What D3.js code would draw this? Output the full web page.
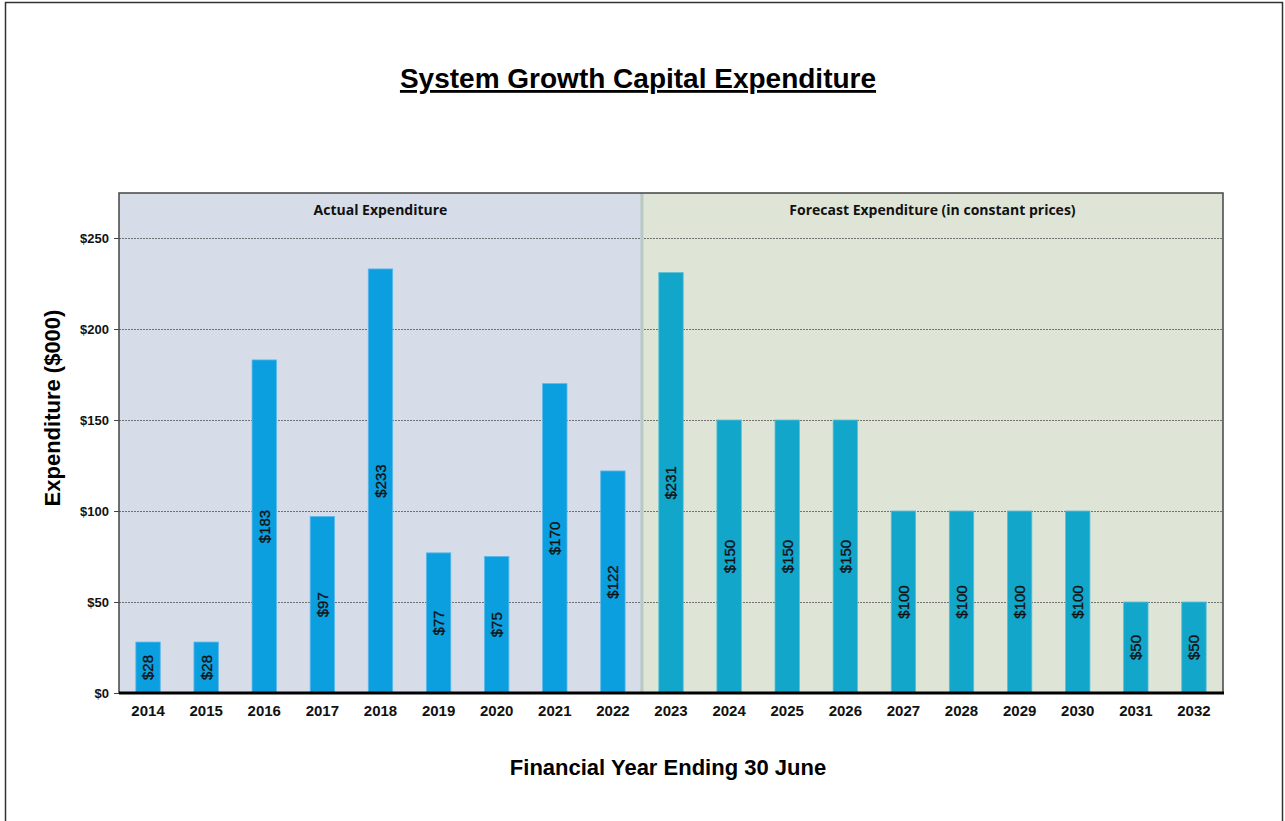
<!DOCTYPE html>
<html>
<head>
<meta charset="utf-8">
<script src="https://cdn.jsdelivr.net/npm/d3@7"></script>
<style>
  body { margin: 0; background: #fff; }
  svg { display: block; font-family: Arial, "Liberation Sans", sans-serif; }
</style>
</head>
<body>
<svg id="chart" width="1285" height="821"></svg>
<script>
// data
var years = ["2014","2015","2016","2017","2018","2019","2020","2021","2022",
             "2023","2024","2025","2026","2027","2028","2029","2030","2031","2032"];
var spend = [28, 28, 183, 97, 233, 77, 75, 170, 122,
             231, 150, 150, 150, 100, 100, 100, 100, 50, 50];
var lastActual = "2022";
var yTicks = [0, 50, 100, 150, 200, 250];
var sections = ["Actual Expenditure", "Forecast Expenditure (in constant prices)"];

var svg = d3.select("#chart");
var margin = {top: 193, right: 62, bottom: 128, left: 119};
var width = 1285 - margin.left - margin.right;
var height = 821 - margin.top - margin.bottom;

// outer frame
svg.append("rect")
    .attr("x", 5.5).attr("y", 2.5)
    .attr("width", 1277).attr("height", 830)
    .attr("fill", "none").attr("stroke", "#333").attr("stroke-width", 1.5);

// title
svg.append("text")
    .attr("x", 638).attr("y", 88)
    .attr("text-anchor", "middle")
    .attr("font-size", 28).attr("font-weight", "bold")
    .attr("text-decoration", "underline")
    .text("System Growth Capital Expenditure");

var g = svg.append("g")
    .attr("transform", "translate(" + margin.left + "," + margin.top + ")");

var x = d3.scaleBand().domain(years).range([0, width]).paddingInner(0.58).paddingOuter(0.29);
var y = d3.scaleLinear().domain([0, 250]).range([height, height - 455]);

var step = x.step();
var split = x(lastActual) + x.bandwidth() + (step - x.bandwidth()) / 2;

// region backgrounds
g.append("rect").attr("x", 0).attr("y", 0).attr("width", split).attr("height", height)
    .attr("fill", "#d6dde9");
g.append("rect").attr("x", split).attr("y", 0).attr("width", width - split).attr("height", height)
    .attr("fill", "#dfe5d6");

// gridlines
g.selectAll(".grid").data(yTicks.filter(function(d){ return d > 0; })).enter()
    .append("line")
    .attr("class", "grid")
    .attr("x1", 0).attr("x2", width)
    .attr("y1", function(d){ return Math.round(y(d)) + 0.5; })
    .attr("y2", function(d){ return Math.round(y(d)) + 0.5; })
    .attr("stroke", "#555").attr("stroke-width", 0.8)
    .attr("stroke-dasharray", "2,1");

// divider
g.append("line")
    .attr("x1", split).attr("x2", split).attr("y1", 0).attr("y2", height)
    .attr("stroke", "#b9c8c3").attr("stroke-width", 3);

// section labels
g.append("text")
    .attr("x", split / 2).attr("y", 22)
    .attr("text-anchor", "middle")
    .attr("font-family", "'Open Sans', sans-serif")
    .attr("font-size", 14).attr("font-weight", "bold")
    .attr("fill", "#111")
    .text(sections[0]);
g.append("text")
    .attr("x", split + (width - split) / 2).attr("y", 22)
    .attr("text-anchor", "middle")
    .attr("font-family", "'Open Sans', sans-serif")
    .attr("font-size", 14).attr("font-weight", "bold")
    .attr("fill", "#111")
    .text(sections[1]);

// bars
var data = years.map(function(yr, i){ return {year: yr, value: spend[i], actual: i <= years.indexOf(lastActual)}; });

var bars = g.selectAll(".bar").data(data).enter().append("g").attr("class", "bar");
bars.append("rect")
    .attr("x", function(d){ return x(d.year); })
    .attr("y", function(d){ return y(d.value); })
    .attr("width", x.bandwidth())
    .attr("height", function(d){ return y(0) - y(d.value); })
    .attr("fill", function(d){ return d.actual ? "#0b9fe0" : "#12a7ca"; })
    .attr("stroke", function(d){ return d.actual ? "#5ab8ea" : "#5cbdd6"; })
    .attr("stroke-width", 0.8);

bars.append("text")
    .attr("transform", function(d){
        var cx = x(d.year) + x.bandwidth() / 2;
        var cy = (y(d.value) + y(0)) / 2;
        return "translate(" + cx + "," + cy + ") rotate(-90)";
    })
    .attr("text-anchor", "middle")
    .attr("dy", "0.36em")
    .attr("font-size", 15)
    .attr("fill", "#111")
    .attr("stroke", "#111").attr("stroke-width", 0.35)
    .text(function(d){ return "$" + d.value; });

// frame of plot area
g.append("path")
    .attr("d", "M0," + height + "V0H" + width + "V" + height)
    .attr("fill", "none").attr("stroke", "#444").attr("stroke-width", 1.5);

// x axis (zero line)
g.append("line")
    .attr("x1", 0).attr("x2", width + 1).attr("y1", height).attr("y2", height)
    .attr("stroke", "#000").attr("stroke-width", 3);

var xAxis = g.append("g")
    .attr("transform", "translate(0," + height + ")")
    .call(d3.axisBottom(x).tickSize(0).tickPadding(12));
xAxis.select(".domain").remove();
xAxis.selectAll("text")
    .attr("font-size", 15).attr("font-weight", "bold")
    .attr("font-family", "Arial, 'Liberation Sans', sans-serif")
    .attr("fill", "#111");

// y axis
var yAxis = g.append("g")
    .call(d3.axisLeft(y).tickValues(yTicks).tickSize(5).tickPadding(5)
        .tickFormat(function(d){ return "$" + d; }));
yAxis.select(".domain").remove();
yAxis.selectAll(".tick line").attr("stroke", "#444");
yAxis.selectAll("text")
    .attr("font-size", 13).attr("font-weight", "bold")
    .attr("font-family", "Arial, 'Liberation Sans', sans-serif")
    .attr("fill", "#111");

// axis titles
svg.append("text")
    .attr("transform", "translate(60,408) rotate(-90)")
    .attr("text-anchor", "middle")
    .attr("font-size", 22).attr("font-weight", "bold")
    .text("Expenditure ($000)");

svg.append("text")
    .attr("x", 668).attr("y", 775)
    .attr("text-anchor", "middle")
    .attr("font-size", 22).attr("font-weight", "bold")
    .text("Financial Year Ending 30 June");
</script>
</body>
</html>
